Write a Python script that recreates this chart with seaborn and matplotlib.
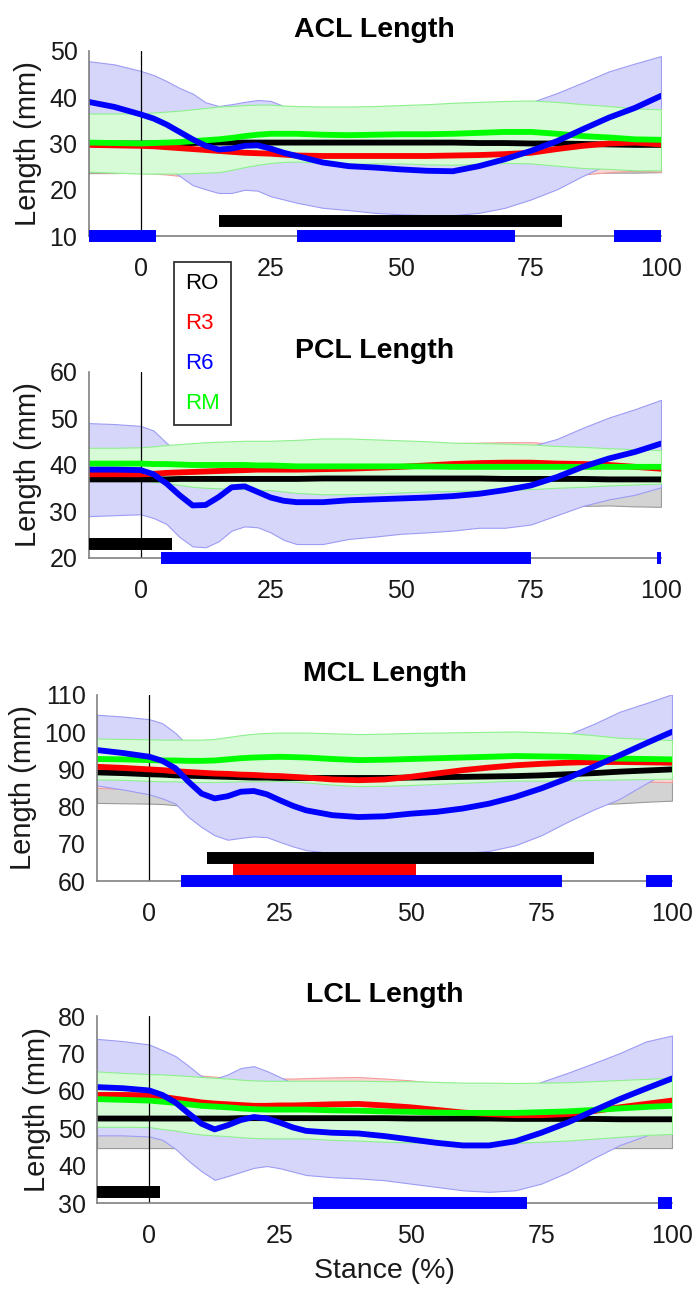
import matplotlib
matplotlib.use('Agg')
import numpy as np
import pandas as pd
import matplotlib.pyplot as plt
import seaborn as sns
from matplotlib.lines import Line2D

# % stance, common sample points for all curves
stance = [-10, -5, 0, 2.5, 5, 7.5, 10, 12.5, 15, 17.5, 20, 22.5, 25, 27.5, 30,
          35, 40, 45, 50, 55, 60, 65, 70, 75, 80, 85, 90, 95, 100]

# ACL length (mm): mean and SD per group
acl_ro = [30.0, 30.0, 30.0, 30.0, 30.1, 30.1, 30.1, 30.2, 30.2, 30.2, 30.2, 30.2, 30.2, 30.2, 30.2,
          30.2, 30.2, 30.2, 30.2, 30.2, 30.2, 30.1, 30.1, 30.0, 30.0, 29.9, 29.8, 29.7, 29.7]
acl_ro_sd = [6.4, 6.4, 6.3, 6.3, 6.3, 6.2, 6.2, 6.2, 6.2, 6.2, 6.2, 6.2, 6.2, 6.2, 6.2,
             6.2, 6.2, 6.2, 6.2, 6.2, 6.2, 6.2, 6.3, 6.3, 6.3, 6.2, 6.1, 6.0, 5.9]
acl_r3 = [29.7, 29.6, 29.5, 29.4, 29.2, 29.0, 28.8, 28.6, 28.4, 28.2, 28.0, 27.9, 27.8, 27.6, 27.4,
          27.3, 27.3, 27.3, 27.3, 27.3, 27.4, 27.5, 27.7, 28.0, 28.8, 29.5, 30.0, 30.2, 29.8]
acl_r3_sd = [5.9, 5.9, 5.9, 5.9, 5.9, 6.0, 6.0, 6.0, 6.0, 6.0, 6.0, 6.0, 6.0, 6.0, 6.0,
             6.0, 6.0, 6.0, 6.0, 6.0, 6.0, 6.0, 6.0, 6.0, 6.1, 6.2, 6.2, 6.1, 5.9]
acl_r6 = [39.0, 37.9, 36.3, 35.4, 34.1, 32.5, 30.9, 29.5, 28.7, 28.9, 29.5, 29.6, 28.9, 28.0, 27.3,
          25.9, 25.1, 24.8, 24.4, 24.1, 24.0, 25.1, 26.6, 28.4, 30.5, 33.1, 35.6, 37.7, 40.3]
acl_r6_sd = [8.8, 9.2, 9.4, 9.4, 9.4, 9.5, 9.9, 9.4, 9.4, 9.6, 9.5, 9.8, 10.3, 10.1, 10.1,
             9.8, 9.5, 9.8, 9.7, 9.6, 9.5, 10.1, 10.5, 10.5, 10.4, 10.1, 10.0, 9.6, 8.6]
acl_rm = [30.2, 30.1, 30.0, 30.1, 30.2, 30.3, 30.5, 30.7, 30.9, 31.2, 31.6, 31.9, 32.1, 32.1, 32.1,
          31.9, 31.8, 31.9, 32.0, 32.0, 32.1, 32.3, 32.5, 32.5, 32.1, 31.6, 31.3, 30.9, 30.8]
acl_rm_sd = [6.3, 6.4, 6.5, 6.6, 6.7, 6.8, 6.9, 7.0, 7.1, 6.9, 6.7, 6.5, 6.3, 6.1, 6.0,
             6.1, 6.2, 6.2, 6.3, 6.5, 6.7, 6.7, 6.7, 6.8, 6.9, 6.9, 6.8, 6.7, 6.6]

# PCL length (mm)
pcl_ro = [36.9, 36.9, 36.9, 36.9, 36.9, 37.0, 37.0, 37.0, 37.0, 37.0, 37.0, 37.0, 37.0, 37.0, 37.0,
          37.1, 37.1, 37.1, 37.1, 37.1, 37.1, 37.1, 37.0, 37.0, 37.0, 37.0, 36.9, 36.9, 36.9]
pcl_ro_sd = [5.9, 5.9, 5.9, 5.9, 5.9, 5.9, 5.9, 5.9, 5.9, 5.9, 5.9, 5.9, 5.9, 5.9, 5.9,
             5.9, 5.9, 5.9, 5.9, 5.9, 5.9, 5.9, 5.9, 5.9, 5.9, 5.8, 5.6, 5.8, 5.9]
pcl_r3 = [38.0, 38.0, 38.0, 38.1, 38.3, 38.4, 38.5, 38.6, 38.7, 38.8, 38.9, 39.0, 39.0, 39.0, 39.0,
          39.1, 39.2, 39.4, 39.6, 39.9, 40.2, 40.4, 40.5, 40.5, 40.3, 40.2, 40.0, 39.6, 39.2]
pcl_r3_sd = [4.5, 4.5, 4.5, 4.5, 4.5, 4.5, 4.5, 4.5, 4.5, 4.5, 4.5, 4.5, 4.5, 4.5, 4.5,
             4.5, 4.5, 4.5, 4.5, 4.5, 4.5, 4.4, 4.4, 4.4, 4.3, 4.2, 4.0, 3.9, 3.8]
pcl_r6 = [39.0, 39.0, 38.9, 38.0, 36.0, 33.5, 31.3, 31.4, 33.1, 35.2, 35.4, 34.2, 33.0, 32.3, 32.0,
          32.0, 32.4, 32.6, 32.8, 33.0, 33.3, 33.8, 34.6, 35.6, 37.4, 39.6, 41.4, 42.8, 44.6]
pcl_r6_sd = [10.0, 9.8, 9.5, 9.4, 8.7, 9.0, 8.8, 9.1, 9.5, 9.3, 8.6, 7.6, 7.5, 8.4, 9.0,
             9.0, 8.3, 8.0, 7.6, 7.5, 7.4, 7.3, 8.1, 8.4, 8.2, 8.4, 8.8, 9.2, 9.4]
pcl_rm = [40.3, 40.3, 40.3, 40.2, 40.2, 40.1, 40.0, 40.0, 40.0, 40.0, 40.0, 39.9, 39.9, 39.8, 39.7,
          39.7, 39.7, 39.7, 39.7, 39.7, 39.6, 39.6, 39.6, 39.6, 39.6, 39.6, 39.6, 39.6, 39.6]
pcl_rm_sd = [3.4, 3.4, 3.5, 3.8, 4.1, 4.4, 4.7, 4.9, 5.0, 5.1, 5.2, 5.3, 5.3, 5.5, 5.7,
             6.0, 6.0, 5.8, 5.6, 5.4, 5.2, 5.1, 5.0, 4.8, 4.5, 4.3, 4.0, 3.8, 3.6]

# MCL length (mm)
mcl_ro = [89.2, 89.0, 88.7, 88.6, 88.4, 88.3, 88.2, 88.1, 88.0, 87.9, 87.8, 87.8, 87.7, 87.7, 87.7,
          87.7, 87.7, 87.7, 87.8, 87.9, 88.0, 88.1, 88.2, 88.4, 88.7, 89.0, 89.4, 89.7, 90.0]
mcl_ro_sd = [8.2, 8.1, 7.9, 7.9, 8.0, 8.0, 8.0, 8.0, 8.0, 8.0, 8.0, 8.0, 8.0, 8.0, 8.0,
             8.0, 8.0, 8.0, 8.0, 8.0, 8.0, 8.1, 8.1, 8.2, 8.3, 8.4, 8.5, 8.4, 8.4]
mcl_r3 = [90.7, 90.4, 90.0, 89.8, 89.5, 89.3, 89.1, 88.9, 88.8, 88.6, 88.5, 88.3, 88.2, 88.0, 87.8,
          87.3, 87.1, 87.3, 88.0, 88.9, 89.8, 90.5, 91.1, 91.5, 91.8, 92.0, 92.0, 91.9, 91.8]
mcl_r3_sd = [5.7, 5.6, 5.6, 5.6, 5.6, 5.6, 5.6, 5.6, 5.6, 5.6, 5.6, 5.6, 5.6, 5.6, 5.6,
             5.6, 5.6, 5.6, 5.6, 5.6, 5.5, 5.5, 5.4, 5.4, 5.3, 5.3, 5.2, 5.2, 5.2]
mcl_r6 = [95.2, 94.4, 93.4, 92.3, 90.3, 86.7, 83.5, 82.2, 82.8, 84.0, 84.2, 83.3, 81.7, 80.2, 79.0,
          77.7, 77.2, 77.4, 78.1, 78.6, 79.5, 80.8, 82.6, 84.9, 87.6, 90.7, 93.8, 97.0, 100.1]
mcl_r6_sd = [9.5, 9.8, 10.1, 10.1, 9.5, 9.5, 9.0, 9.9, 11.7, 12.4, 12.2, 11.5, 11.2, 10.9, 10.7,
             10.2, 9.8, 10.0, 10.7, 11.2, 12.0, 12.7, 13.0, 12.6, 11.7, 11.5, 11.7, 10.8, 10.1]
mcl_rm = [92.8, 92.7, 92.5, 92.4, 92.4, 92.3, 92.3, 92.4, 92.7, 93.0, 93.2, 93.3, 93.4, 93.3, 93.2,
          92.8, 92.5, 92.6, 92.8, 93.0, 93.2, 93.4, 93.6, 93.5, 93.4, 93.2, 92.9, 92.8, 92.7]
mcl_rm_sd = [5.5, 5.5, 5.6, 5.6, 5.6, 5.7, 5.7, 5.8, 6.0, 6.2, 6.4, 6.5, 6.5, 6.6, 6.7,
             6.9, 7.0, 7.0, 7.0, 6.9, 6.8, 6.7, 6.6, 6.5, 6.4, 6.0, 5.6, 5.4, 5.2]

# LCL length (mm)
lcl_ro = [52.6, 52.6, 52.6, 52.6, 52.6, 52.6, 52.6, 52.6, 52.6, 52.7, 52.7, 52.7, 52.7, 52.7, 52.7,
          52.7, 52.7, 52.7, 52.6, 52.6, 52.6, 52.6, 52.5, 52.5, 52.5, 52.5, 52.4, 52.4, 52.4]
lcl_ro_sd = [7.9, 7.9, 7.9, 7.9, 7.9, 7.9, 7.9, 7.9, 7.9, 7.9, 7.9, 7.9, 7.9, 7.9, 7.9,
             7.9, 7.9, 7.9, 7.9, 7.9, 7.9, 7.9, 7.8, 7.8, 7.8, 7.8, 7.7, 7.7, 7.7]
lcl_r3 = [58.9, 58.9, 58.8, 58.4, 57.9, 57.4, 56.9, 56.6, 56.4, 56.2, 56.0, 56.0, 56.1, 56.1, 56.2,
          56.4, 56.5, 56.1, 55.6, 54.9, 54.2, 53.8, 53.5, 53.5, 53.8, 54.6, 55.6, 56.5, 57.4]
lcl_r3_sd = [7.2, 7.2, 7.2, 7.2, 7.2, 7.2, 7.2, 7.2, 7.2, 7.2, 7.2, 7.2, 7.2, 7.2, 7.2,
             7.2, 7.2, 7.2, 7.2, 7.2, 7.2, 7.2, 7.2, 7.2, 7.2, 7.2, 7.2, 7.2, 7.2]
lcl_r6 = [61.0, 60.7, 60.1, 58.9, 56.9, 54.0, 51.2, 49.7, 50.8, 52.2, 53.0, 52.6, 51.5, 50.2, 49.3,
          48.8, 48.6, 47.9, 47.0, 46.1, 45.4, 45.4, 46.5, 48.8, 51.5, 54.7, 57.8, 60.6, 63.3]
lcl_r6_sd = [12.9, 12.6, 12.3, 12.0, 12.4, 12.7, 12.7, 13.5, 13.6, 13.9, 13.6, 12.7, 12.2, 11.8, 11.8,
             11.9, 12.0, 11.8, 11.8, 11.8, 12.0, 12.4, 13.1, 13.6, 13.3, 12.7, 12.3, 12.6, 11.5]
lcl_rm = [57.8, 57.6, 57.4, 57.1, 56.8, 56.4, 56.0, 55.8, 55.6, 55.3, 55.1, 55.0, 55.0, 55.0, 55.0,
          54.8, 54.7, 54.5, 54.4, 54.2, 54.1, 54.1, 54.1, 54.3, 54.5, 54.9, 55.3, 55.7, 56.0]
lcl_rm_sd = [7.4, 7.2, 7.1, 7.3, 7.4, 7.6, 7.7, 7.7, 7.7, 7.7, 7.7, 7.7, 7.7, 7.7, 7.7,
             7.9, 8.0, 8.1, 8.2, 8.2, 8.1, 8.1, 8.0, 7.9, 7.8, 7.7, 7.6, 7.5, 7.5]

# significant differences (start, end) of stance per group
acl_sig_ro = [(15, 81)]
acl_sig_r6 = [(-10, 3), (30, 72), (91, 100)]
pcl_sig_ro = [(-10, 6)]
pcl_sig_r6 = [(4, 75), (99.2, 100)]
mcl_sig_ro = [(11, 85)]
mcl_sig_r3 = [(16, 51)]
mcl_sig_r6 = [(6, 79), (95, 100)]
lcl_sig_ro = [(-10, 2)]
lcl_sig_r6 = [(31.3, 72.2), (97.3, 100)]

groups = ['RO', 'R3', 'R6', 'RM']
line_colors = {'RO': '#000000', 'R3': '#ff0000', 'R6': '#0000ff', 'RM': '#00ff00'}
band_face = {'RO': '#d3d3d3', 'R3': '#fad5d5', 'R6': '#d6d6fb', 'RM': '#d6fbd6'}
band_edge = {'RO': '#9a9a9a', 'R3': '#f59c9c', 'R6': '#9c9cf5', 'RM': '#8ef08e'}

panels = [
    dict(title='ACL Length', ylim=(10, 50), yticks=[10, 20, 30, 40, 50],
         rect=[0.1272, 0.8186, 0.8225, 0.1422],
         mean={'RO': acl_ro, 'R3': acl_r3, 'R6': acl_r6, 'RM': acl_rm},
         sd={'RO': acl_ro_sd, 'R3': acl_r3_sd, 'R6': acl_r6_sd, 'RM': acl_rm_sd},
         sig=[('RO', 13.2, acl_sig_ro), ('R6', 10, acl_sig_r6)]),
    dict(title='PCL Length', ylim=(20, 60), yticks=[20, 30, 40, 50, 60],
         rect=[0.1272, 0.5711, 0.8225, 0.1430],
         mean={'RO': pcl_ro, 'R3': pcl_r3, 'R6': pcl_r6, 'RM': pcl_rm},
         sd={'RO': pcl_ro_sd, 'R3': pcl_r3_sd, 'R6': pcl_r6_sd, 'RM': pcl_rm_sd},
         sig=[('RO', 23, pcl_sig_ro), ('R6', 20, pcl_sig_r6)]),
    dict(title='MCL Length', ylim=(60, 110), yticks=[60, 70, 80, 90, 100, 110],
         rect=[0.1394, 0.3228, 0.8261, 0.1430],
         mean={'RO': mcl_ro, 'R3': mcl_r3, 'R6': mcl_r6, 'RM': mcl_rm},
         sd={'RO': mcl_ro_sd, 'R3': mcl_r3_sd, 'R6': mcl_r6_sd, 'RM': mcl_rm_sd},
         sig=[('RO', 66.1, mcl_sig_ro), ('R3', 63, mcl_sig_r3), ('R6', 60, mcl_sig_r6)]),
    dict(title='LCL Length', ylim=(30, 80), yticks=[30, 40, 50, 60, 70, 80],
         rect=[0.1394, 0.0753, 0.8261, 0.1437],
         mean={'RO': lcl_ro, 'R3': lcl_r3, 'R6': lcl_r6, 'RM': lcl_rm},
         sd={'RO': lcl_ro_sd, 'R3': lcl_r3_sd, 'R6': lcl_r6_sd, 'RM': lcl_rm_sd},
         sig=[('RO', 33, lcl_sig_ro), ('R6', 30, lcl_sig_r6)]),
]

sns.set_theme(style='white')
plt.rcParams['font.family'] = ['Liberation Sans', 'DejaVu Sans']
plt.rcParams['text.color'] = 'black'
plt.rcParams['axes.labelcolor'] = '#1a1a1a'

fig = plt.figure(figsize=(6.96, 13.01), dpi=100)
x = np.array(stance)

for i, p in enumerate(panels):
    ax = fig.add_axes(p['rect'])

    # SD bands, drawn under the mean curves
    for g in ['RO', 'R3', 'R6', 'RM']:
        m = np.array(p['mean'][g])
        s = np.array(p['sd'][g])
        ax.fill_between(x, m - s, m + s, facecolor=band_face[g],
                        edgecolor=band_edge[g], linewidth=0.8, zorder=1)

    ax.axvline(0, color='black', linewidth=0.9, zorder=1.5)

    rows = []
    for g in groups:
        for xv, yv in zip(stance, p['mean'][g]):
            rows.append({'stance': xv, 'length': yv, 'group': g})
    df = pd.DataFrame(rows)
    sns.lineplot(data=df, x='stance', y='length', hue='group',
                 hue_order=['RO', 'R3', 'RM', 'R6'], palette=line_colors,
                 linewidth=4.2, estimator=None, legend=False, ax=ax, zorder=2)

    # significance bars
    for g, level, spans in p['sig']:
        for x0, x1 in spans:
            ax.plot([x0, x1], [level, level], color=line_colors[g], linewidth=8.6,
                    solid_capstyle='butt', clip_on=False, zorder=3)

    ax.set_xlim(-10, 100)
    ax.set_ylim(*p['ylim'])
    ax.set_xticks([0, 25, 50, 75, 100])
    ax.set_yticks(p['yticks'])
    ax.set_title(p['title'], fontsize=20.5, fontweight='bold', pad=10, color='black')
    ax.set_ylabel('Length (mm)', fontsize=21, labelpad=5)
    ax.set_xlabel('Stance (%)' if i == 3 else '', fontsize=20.5, labelpad=7)
    for side in ['top', 'right']:
        ax.spines[side].set_visible(False)
    for side in ['left', 'bottom']:
        ax.spines[side].set_color('#808080')
        ax.spines[side].set_linewidth(1.2)
    ax.tick_params(axis='both', direction='in', length=4, width=1, color='#808080',
                   labelsize=18, labelcolor='#1a1a1a')
    ax.tick_params(axis='x', pad=15)
    ax.tick_params(axis='y', pad=8)

handles = [Line2D([], [], color=line_colors[g], linewidth=0) for g in groups]
leg = fig.legend(handles, groups, loc='upper left', bbox_to_anchor=(174 / 696, 1 - 262 / 1301),
                 handlelength=0, handletextpad=0, labelcolor=[line_colors[g] for g in groups],
                 fontsize=16, frameon=True, fancybox=False, edgecolor='black',
                 labelspacing=0.85, borderpad=0.5, borderaxespad=0)
leg.get_frame().set_linewidth(1.3)

fig.savefig('out.png', dpi=100)
